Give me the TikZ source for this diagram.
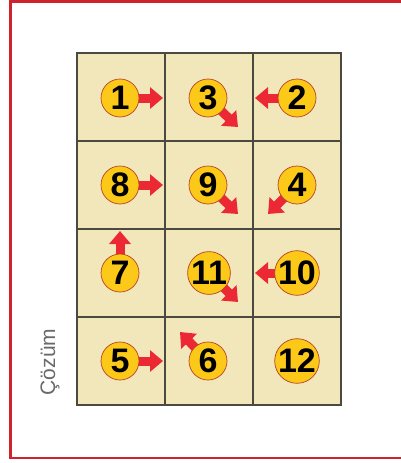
\documentclass[tikz,border=0pt]{standalone}
\usepackage{fontspec}
\setmainfont{Liberation Sans}
\usetikzlibrary{arrows.meta}
\definecolor{cellfill}{HTML}{F2E7BA}
\definecolor{gridline}{HTML}{4A4A40}
\definecolor{framered}{HTML}{D0222E}
\definecolor{disc}{HTML}{FCC919}
\definecolor{discline}{HTML}{B5402A}
\definecolor{arrowred}{HTML}{EC2834}
\definecolor{labelgray}{HTML}{6A6A6A}
\tikzset{
  cell/.style={draw=gridline, fill=cellfill, line width=1.4pt, minimum width=88pt, minimum height=88pt, inner sep=0pt},
  num/.style={circle, draw=discline, fill=disc, line width=0.7pt, minimum size=38pt, inner sep=0pt,
    font=\fontsize{34}{34}\bfseries\selectfont, text depth=0pt},
  blockarrow/.style={draw=arrowred, line width=9pt, -{Triangle[width=21pt,length=13pt,fill=arrowred]}},
}
\begin{document}
\begin{tikzpicture}[x=1pt,y=-1pt]
\useasboundingbox (0,0) rectangle (401,463);
\fill[white] (0,0) rectangle (401,463);
% frame
\draw[framered, line width=2.6pt] (402,1.5) -- (10.5,1.5) -- (10.5,458) -- (402,458);
% grid cells
\foreach \r/\y in {1/97,2/185,3/273,4/361}{
  \foreach \c/\x in {1/121,2/209,3/297}{
    \node[cell] (cell\r\c) at (\x,\y) {};
  }
}
\draw[gridline, line width=1.4pt] (77,53) rectangle (341,405);
% circle positions
\coordinate (p1) at (120,98);
\coordinate (p3) at (208,98);
\coordinate (p2) at (297,98);
\coordinate (p8) at (120,185);
\coordinate (p9) at (208,185);
\coordinate (p4) at (297,185);
\coordinate (p7) at (120,273);
\coordinate (p11) at (209,273);
\coordinate (p10) at (297,273);
\coordinate (p5) at (120,361);
\coordinate (p6) at (208,361);
\coordinate (p12) at (297,361);
% arrow tips
\coordinate (t1) at (163,98);
\coordinate (t3) at (238,127);
\coordinate (t2) at (255,98);
\coordinate (t8) at (163,185);
\coordinate (t9) at (238,214);
\coordinate (t4) at (268,214);
\coordinate (t7) at (120,231);
\coordinate (t11) at (238,302);
\coordinate (t10) at (255,273);
\coordinate (t5) at (163,361);
\coordinate (t6) at (180,332);
% arrows
\foreach \k in {1,3,2,8,9,4,7,11,10,5,6}{
  \draw[blockarrow] (p\k) -- (t\k);
}
% discs
\foreach \k in {1,3,2,8,9,4,7,11,10,5,6,12}{
  \node[num] (n\k) at (p\k) {\k};
}
% label
\node[rotate=90, text=labelgray, font=\fontsize{21}{21}\selectfont, inner sep=0pt] (cozum) at (50,362) {Çözüm};
\end{tikzpicture}
\end{document}
